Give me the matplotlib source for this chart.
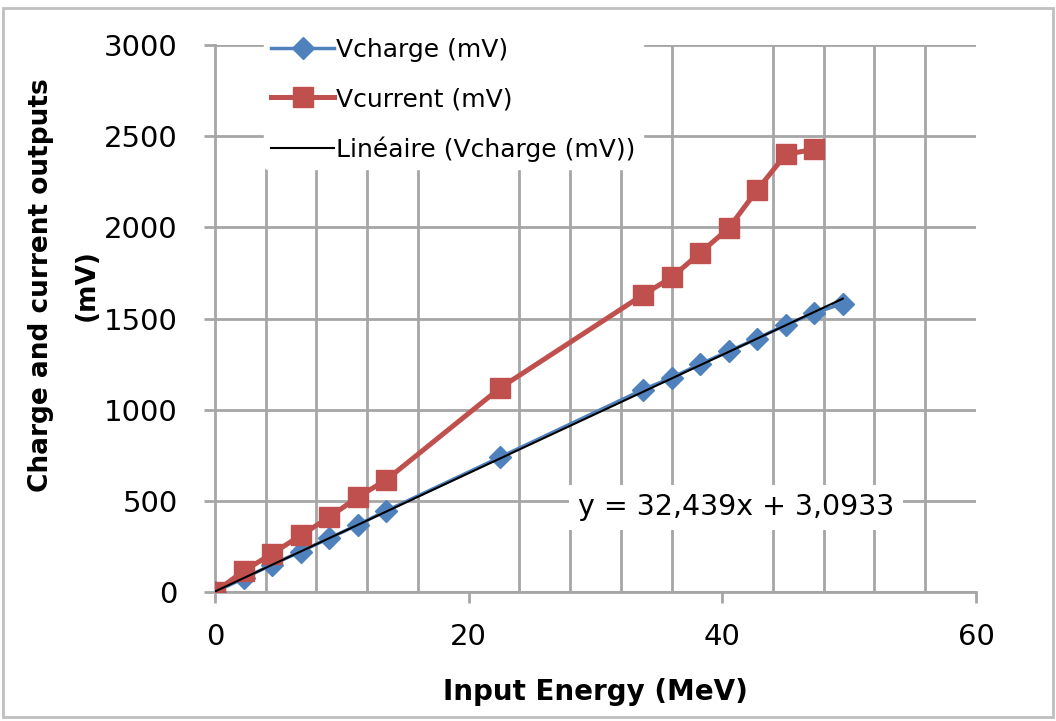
import numpy as np
import matplotlib.pyplot as plt
from matplotlib.patches import Rectangle

plt.rcParams['font.family'] = ['DejaVu Sans']

# Données
energy = [0, 2.25, 4.5, 6.75, 9, 11.25, 13.5, 22.5, 33.75, 36, 38.25, 40.5, 42.75, 45, 47.25, 49.5]
v_charge = [0, 75, 150, 222, 295, 368, 445, 740, 1110, 1175, 1250, 1320, 1390, 1465, 1530, 1582]
v_current = [0, 115, 210, 310, 410, 520, 615, 1120, 1630, 1725, 1860, 1995, 2205, 2400, 2428]
slope = 32.439
intercept = 3.0933
eq_text = "y = 32,439x + 3,0933"

blue = '#4f81bd'
red = '#c0504d'
grid_col = '#a6a6a6'

fig = plt.figure(figsize=(10.56, 7.21), dpi=100)
ax = fig.add_axes([0.2036, 0.1789, 0.7206, 0.7587])

# Cadre autour de la figure
fig.patches.append(Rectangle((0.003, 0.005), 0.994, 0.984, transform=fig.transFigure,
                             fill=False, edgecolor='#bfbfbf', linewidth=2))

ax.set_xlim(0, 60)
ax.set_ylim(0, 3000)
ax.set_xticks([0, 20, 40, 60])
ax.set_xticks(np.arange(0, 61, 4), minor=True)
ax.set_yticks(np.arange(0, 3001, 500))

ax.grid(True, which='major', axis='y', color=grid_col, linewidth=2)
ax.grid(True, which='minor', axis='x', color=grid_col, linewidth=2)
ax.set_axisbelow(True)

for s in ['top', 'right']:
    ax.spines[s].set_visible(False)
for s in ['left', 'bottom']:
    ax.spines[s].set_color(grid_col)
    ax.spines[s].set_linewidth(2)

ax.tick_params(axis='both', which='major', direction='out', length=8, width=2,
               color=grid_col, labelsize=21)
ax.tick_params(axis='x', which='major', pad=14)
ax.tick_params(axis='y', which='major', pad=19)
ax.tick_params(axis='x', which='minor', length=0)

# Séries
ax.plot(energy, v_charge, color=blue, lw=2.5, marker='D', markersize=11,
        label='Vcharge (mV)', zorder=3)
ax.plot(energy[:len(v_current)], v_current, color=red, lw=3.6, marker='s',
        markersize=15, label='Vcurrent (mV)', zorder=4)
xfit = np.array([energy[0], energy[-1]])
ax.plot(xfit, slope * xfit + intercept, color='black', lw=1.5,
        label='Linéaire (Vcharge (mV))', zorder=5)

ax.text(28.6, 466, eq_text, fontsize=20.5, va='center', ha='left', zorder=6,
        bbox=dict(boxstyle='square,pad=0.3', facecolor='white', edgecolor='none'))

ax.set_xlabel('Input Energy (MeV)', fontsize=20, fontweight='bold', labelpad=20)
ax.set_ylabel('Charge and current outputs\n(mV)', fontsize=19, fontweight='bold',
              linespacing=1.95)
ax.yaxis.set_label_coords(-0.152, 0.561)

leg = ax.legend(loc='upper left', bbox_to_anchor=(0.238, 0.975), bbox_transform=fig.transFigure,
                frameon=True, fontsize=18, handlelength=2.5, handletextpad=0.1,
                labelspacing=1.0, borderpad=0.3)
leg.get_frame().set_edgecolor('white')
leg.get_frame().set_facecolor('white')
leg.get_frame().set_alpha(1)

fig.savefig('out.png', dpi=100)
